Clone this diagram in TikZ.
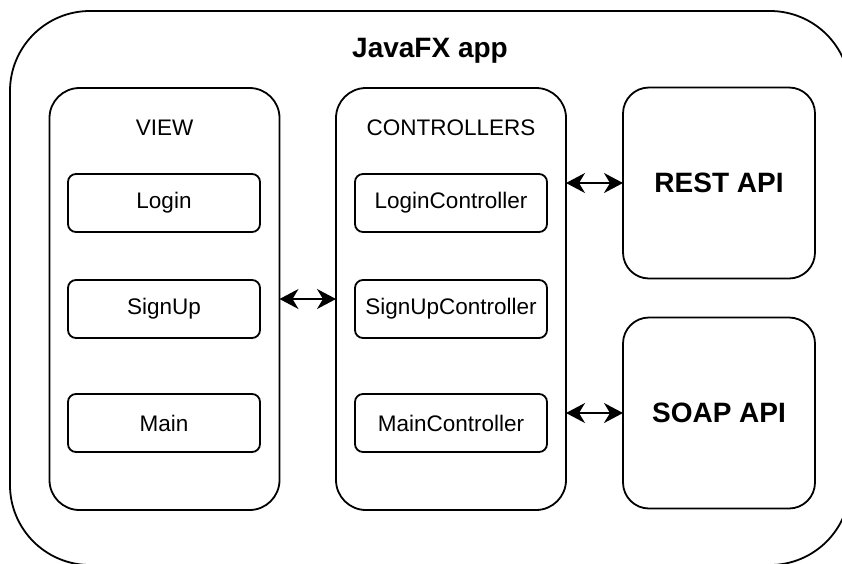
\documentclass[tikz,border=0pt]{standalone}
\usepackage{fontspec}
\setmainfont{Liberation Sans}
\usetikzlibrary{arrows.meta}
\begin{document}
\begin{tikzpicture}[x=1pt,y=-1pt,
  every node/.style={inner sep=0pt, outer sep=0pt},
  frame/.style={draw, line width=1.8pt, rounded corners=80pt},
  panel/.style={draw, line width=1.8pt, rounded corners=30pt, minimum width=230pt, minimum height=422pt},
  item/.style={draw, line width=1.8pt, rounded corners=8pt, minimum width=192pt, minimum height=58pt,
    font=\fontsize{22.5}{27}\selectfont},
  api/.style={draw, line width=1.8pt, rounded corners=26pt, minimum width=192pt, minimum height=191pt,
    font=\bfseries\fontsize{28}{33}\selectfont},
  heading/.style={font=\fontsize{22.5}{27}\selectfont},
  title/.style={font=\bfseries\fontsize{28}{33}\selectfont},
  conn/.style={line width=1.5pt, {Stealth[length=19pt,width=20pt,inset=6pt]}-{Stealth[length=19pt,width=20pt,inset=6pt]}}
]
\useasboundingbox (0,0) rectangle (842,563);
\begin{scope}
\clip (0,0) rectangle (842,563);
\node[frame, minimum width=840pt, minimum height=554pt] (app) at (430,288) {};
\end{scope}
\node[title] (apptitle) at (430,51) {JavaFX app};

\node[panel] (view) at (164.5,299) {};
\node[heading] (viewlbl) at (164.5,128) {VIEW};
\node[item] (login) at (164,203) {Login};
\node[item] (signup) at (164,309) {SignUp};
\node[item] (main) at (164,423) {Main};

\node[panel] (ctrl) at (451,299) {};
\node[heading] (ctrllbl) at (451,128) {CONTROLLERS};
\node[item] (loginc) at (451,203) {LoginController};
\node[item] (signupc) at (451,309) {SignUpController};
\node[item] (mainc) at (451,423) {MainController};

\node[api] (rest) at (719,183) {REST API};
\node[api] (soap) at (719,413) {SOAP API};

\draw[conn] (view.east) -- (ctrl.west);
\draw[conn] (ctrl.east |- rest.west) -- (rest.west);
\draw[conn] (ctrl.east |- soap.west) -- (soap.west);
\end{tikzpicture}
\end{document}
